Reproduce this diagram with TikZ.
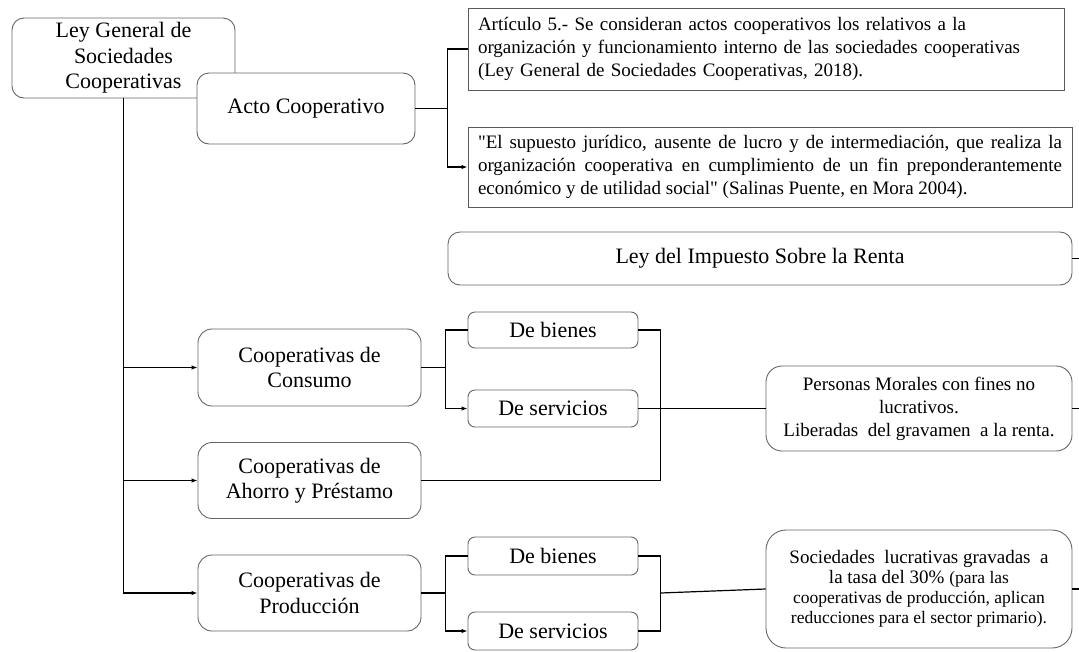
\documentclass[tikz,border=0pt]{standalone}
\usepackage{fontspec}
\setmainfont{Liberation Serif}[Ligatures=TeXOff]
\usetikzlibrary{arrows.meta}
\tikzset{
  rbox/.style={draw=black!60, line width=0.9pt, rounded corners=#1, fill=white, align=center, inner sep=0pt},
  rbox/.default=12pt,
  sbox/.style={draw=black!65, line width=0.9pt, fill=white, inner sep=0pt},
  big/.style={font=\fontsize{22}{25.5}\selectfont},
  mid/.style={font=\fontsize{19}{23}\selectfont},
  conn/.style={line width=1.2pt, draw=black},
  arr/.style={conn, -{Latex[length=6pt,width=4.5pt]}},
}
\begin{document}
\begin{tikzpicture}[x=1pt, y=-1pt]
\useasboundingbox[fill=white] (0,0) rectangle (1079,651);

% left column
\node[rbox, big, minimum width=223pt, minimum height=80pt] (lgsc) at (123.5,58) {Ley General de\\Sociedades\\Cooperativas};
\node[rbox, big, minimum width=218pt, minimum height=71pt] (acto) at (306,108.5) {Acto Cooperativo};

\node[rbox=14pt, big, minimum width=223pt, minimum height=77pt] (cons) at (309.5,367.5) {Cooperativas de\\Consumo};
\node[rbox=14pt, big, minimum width=223pt, minimum height=76pt] (ahorro) at (309.5,480.5) {Cooperativas de\\Ahorro y Préstamo};
\node[rbox=14pt, big, minimum width=223pt, minimum height=76pt] (prod) at (309.5,593) {Cooperativas de\\Producción};

% small boxes
\node[rbox=7pt, big, minimum width=170pt, minimum height=36pt] (db1) at (553,330) {De bienes};
\node[rbox=7pt, big, minimum width=170pt, minimum height=37pt] (ds1) at (553,408.5) {De servicios};
\node[rbox=7pt, big, minimum width=170pt, minimum height=38pt] (db2) at (553,556) {De bienes};
\node[rbox=7pt, big, minimum width=170pt, minimum height=38pt] (ds2) at (553,631) {De servicios};

% top right
\node[sbox, mid, minimum width=596pt, minimum height=82pt, text width=576pt, align=left] (art) at (766,49)
 {Artículo 5.- Se consideran\ actos cooperativos los relativos a la\\
  organización y funcionamiento\ interno de las sociedades\ cooperativas\\
  (Ley\ General de Sociedades\ Cooperativas, 2018).};
\node[sbox, mid, minimum width=604pt, minimum height=80pt, text width=584pt, align=justify] (sal) at (770,167)
 {"El supuesto jurídico, ausente de lucro y de intermediación,\ que realiza la\linebreak
  organización cooperativa en cumplimiento de un fin preponderantemente\linebreak
  económico y de utilidad social" (Salinas Puente, en Mora 2004).};

\node[rbox=12pt, big, minimum width=624pt, minimum height=53pt] (ley) at (760,258.5) {Ley del Impuesto Sobre la Renta};

\node[rbox=16pt, mid, minimum width=306pt, minimum height=85pt] (pers) at (919,408.5)
 {Personas Morales con fines no\\lucrativos.\\Liberadas\ \ del gravamen\ \ a la renta.};
\node[rbox=20pt, font=\fontsize{19}{20}\selectfont, minimum width=306pt, minimum height=118pt] (soc) at (919,589)
 {Sociedades\ \ lucrativas gravadas\ \ a\\
  la tasa del 30\% {\fontsize{17.5}{20}\selectfont(para las}\\
  {\fontsize{17.5}{20}\selectfont cooperativas de producción, aplican}\\
  {\fontsize{17.5}{20}\selectfont reducciones para el\ sector primario).}};

% connectors
\draw[arr] (lgsc.south) |- (cons.west);
\draw[arr] (lgsc.south) |- (ahorro.west);
\draw[arr] (lgsc.south) |- (prod.west);

\draw[conn] (acto.east) -- ++(32,0) coordinate (ja) |- (art.west);
\draw[arr] (ja) |- (sal.west);

\draw[conn] (cons.east) -- ++(24,0) coordinate (jc) |- (db1.west);
\draw[arr] (jc) |- (ds1.west);
\draw[conn] (db1.east) -- ++(22,0) |- (ahorro.east);
\draw[conn] (ds1.east) -- (pers.west);

\draw[conn] (prod.east) -- ++(24,0) coordinate (jp) |- (db2.west);
\draw[arr] (jp) |- (ds2.west);
\draw[conn] (db2.east) -- ++(22,0) coordinate (jq) |- (ds2.east);
\draw[conn] (jq |- prod.east) -- (soc.west);

\draw[conn] (ley.east) -- ++(8,0);
\draw[conn] (pers.east) -- ++(8,0);
\draw[conn] (soc.east) -- ++(8,0);
\end{tikzpicture}
\end{document}
